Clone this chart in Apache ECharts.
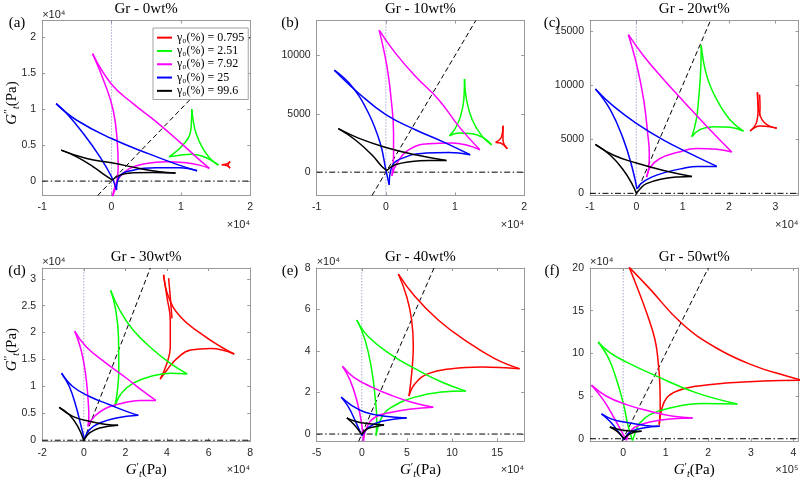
<!DOCTYPE html>
<html><head><meta charset="utf-8">
<script src="https://cdn.jsdelivr.net/npm/echarts@6/dist/echarts.min.js"></script>
<style>html,body{margin:0;padding:0;background:#fff}#c{width:800px;height:480px}</style>
</head><body><div id="c"></div>
<script>
// ---------- labels ----------
const TITLES = ['Gr - 0wt%', 'Gr - 10wt%', 'Gr - 20wt%', 'Gr - 30wt%', 'Gr - 40wt%', 'Gr - 50wt%'];
const LETTERS = ['(a)', '(b)', '(c)', '(d)', '(e)', '(f)'];
const GAMMA_LABELS = ['0.795', '2.51', '7.92', '25', '99.6'];
const CURVE_COLORS = ['#ff0000', '#00ff00', '#ff00ff', '#0000ff', '#000000'];

// ---------- tick values (displayed units) ----------
const TICKS_X_A = [-1, 0, 1, 2];          const TICKS_Y_A = [0, 0.5, 1, 1.5, 2];
const TICKS_X_B = [-1, 0, 1, 2];          const TICKS_Y_B = [0, 5000, 10000];
const TICKS_X_C = [-1, 0, 1, 2, 3];       const TICKS_Y_C = [0, 5000, 10000, 15000];
const TICKS_X_D = [-2, 0, 2, 4, 6, 8];    const TICKS_Y_D = [0, 0.5, 1, 1.5, 2, 2.5, 3];
const TICKS_X_E = [-5, 0, 5, 10, 15];     const TICKS_Y_E = [0, 2, 4, 6, 8];
const TICKS_X_F = [0, 1, 2, 3, 4];        const TICKS_Y_F = [0, 5, 10, 15, 20];

// ---------- curves: each curve = list of edges (cusp to cusp), points [G't, G''t] in displayed units ----------
// (a) Gr - 0wt%  (x: 1e4 Pa, y: 1e4 Pa)
const A_red = [
  [[1.59,0.226],[1.67,0.24],[1.71,0.273]],
  [[1.71,0.273],[1.68,0.226],[1.71,0.18]],
  [[1.71,0.18],[1.67,0.212],[1.59,0.226]]
];
const A_green = [
  [[1.158,0.998],[1.153,0.845],[1.134,0.661],[1.005,0.476],[0.885,0.374],[0.828,0.337]],
  [[1.158,0.998],[1.177,0.845],[1.22,0.661],[1.316,0.453],[1.435,0.30],[1.541,0.222]],
  [[0.828,0.337],[0.981,0.36],[1.148,0.374],[1.316,0.346],[1.459,0.277],[1.541,0.222]]
];
const A_magenta = [
  [[-0.273,1.769],[-0.096,1.353],[0.024,0.984],[0.081,0.568],[0.096,0.199],[0.072,-0.032],[0.014,-0.217]],
  [[-0.273,1.769],[0,1.344],[0.311,1.076],[0.646,0.822],[0.981,0.545],[1.22,0.337],[1.411,0.176]],
  [[0.014,-0.217],[0.048,-0.079],[0.12,0.06],[0.263,0.176],[0.502,0.245],[0.789,0.268],[1.077,0.254],[1.268,0.222],[1.411,0.176]]
];
const A_blue = [
  [[-0.799,1.076],[-0.646,0.938],[-0.407,0.661],[-0.167,0.337],[0,0.06],[0.072,-0.125]],
  [[-0.799,1.076],[-0.502,0.845],[0,0.591],[0.55,0.374],[0.933,0.236],[1.234,0.143]],
  [[0.072,-0.125],[0.11,0.06],[0.311,0.152],[0.646,0.185],[0.981,0.185],[1.234,0.143]]
];
const A_black = [
  [[-0.727,0.43],[-0.502,0.337],[-0.263,0.199],[-0.096,0.083],[0.014,0.014]],
  [[-0.727,0.43],[-0.359,0.314],[0,0.254],[0.407,0.176],[0.694,0.129],[0.923,0.111]],
  [[0.014,0.014],[0.12,0.083],[0.311,0.115],[0.598,0.12],[0.923,0.111]]
];

// (b) Gr - 10wt%  (x: 1e4 Pa, y: Pa)
const B_red = [
  [[1.693,3982],[1.674,3066],[1.587,2550]],
  [[1.693,3982],[1.693,2779],[1.756,2006]],
  [[1.587,2550],[1.659,2493],[1.756,2006]]
];
const B_green = [
  [[1.137,7993],[1.127,6217],[1.079,4785],[1.006,3782],[0.919,3123]],
  [[1.137,7993],[1.166,6217],[1.248,4498],[1.393,3066],[1.529,2349]],
  [[0.919,3123],[1.055,3352],[1.248,3295],[1.418,2922],[1.529,2349]]
];
const B_magenta = [
  [[-0.097,12176],[0.015,9082],[0.077,6217],[0.111,3352],[0.111,1347],[0.087,-315]],
  [[-0.097,12176],[0.135,10228],[0.426,8223],[0.764,6217],[1.055,3925],[1.359,1920]],
  [[0.087,-315],[0.16,774],[0.329,1920],[0.619,2435],[0.958,2493],[1.2,2263],[1.359,1920]]
];
const B_blue = [
  [[-0.745,8738],[-0.493,7363],[-0.252,5071],[-0.082,2493],[0,201],[0.048,-1089]],
  [[-0.745,8738],[-0.397,6790],[0,4928],[0.426,3639],[0.813,2636],[1.219,1490]],
  [[0.048,-1089],[0.087,487],[0.281,1289],[0.571,1633],[0.91,1690],[1.219,1490]]
];
const B_black = [
  [[-0.687,3725],[-0.445,2779],[-0.203,1490],[-0.058,487],[0.015,143]],
  [[-0.687,3725],[-0.397,2922],[0,2120],[0.426,1490],[0.876,1003]],
  [[0.015,143],[0.135,630],[0.377,917],[0.619,1003],[0.876,1003]]
];

// (c) Gr - 20wt%  (x: 1e4 Pa, y: Pa)
const C_red = [
  [[2.614,9354],[2.628,7733],[2.6,6641],[2.456,5768]],
  [[2.614,9354],[2.657,7421],[2.779,6485],[3.031,6018]],
  [[2.456,5768],[2.672,6236],[2.887,6174],[3.031,6018]],
  [[2.66,9150],[2.67,8000],[2.66,7200]]
];
const C_green = [
  [[1.4,13719],[1.393,11786],[1.343,8668],[1.293,6797],[1.199,5238]],
  [[1.4,13719],[1.522,10851],[1.738,8668],[2.025,6797],[2.312,5768]],
  [[1.199,5238],[1.379,5924],[1.666,6174],[2.025,6111],[2.312,5768]]
];
const C_magenta = [
  [[-0.172,14686],[0.014,11786],[0.158,8668],[0.245,5550],[0.28,3679],[0.27,2400],[0.22,1500]],
  [[-0.172,14686],[0.158,12721],[0.589,10539],[1.02,8512],[1.594,5862],[2.061,3835]],
  [[0.22,1500],[0.3,2400],[0.5,3200],[0.9,3800],[1.3,4150],[1.738,4085],[2.061,3835]]
];
const C_blue = [
  [[-0.883,9666],[-0.56,7733],[-0.273,4926],[-0.093,2432],[0.014,405]],
  [[-0.883,9666],[-0.488,8044],[0,6485],[0.589,4926],[1.163,3679],[1.738,2494]],
  [[0.014,405],[0.1,900],[0.33,1500],[0.65,1965],[1.0,2300],[1.307,2494],[1.738,2494]]
];
const C_black = [
  [[-0.883,4521],[-0.56,3523],[-0.273,2120],[-0.093,873],[0,0]],
  [[-0.883,4521],[-0.488,3523],[0,2806],[0.589,2120],[1.199,1559]],
  [[0,0],[0.1,500],[0.22,900],[0.58,1350],[0.9,1520],[1.199,1559]]
];

// (d) Gr - 30wt%  (x: 1e4 Pa, y: 1e4 Pa)
const D_red = [
  [[3.835,3.074],[3.997,2.661],[4.158,2.23],[4.158,1.737],[3.997,1.429],[3.673,1.134]],
  [[3.835,3.074],[4.077,2.661],[4.644,2.292],[5.615,1.984],[6.585,1.737],[7.233,1.602]],
  [[3.673,1.134],[3.997,1.306],[4.482,1.522],[5.129,1.676],[6.1,1.706],[7.233,1.602]],
  [[4.077,3.012],[4.16,2.65],[4.239,2.261]]
];
const D_green = [
  [[1.294,2.784],[1.537,2.415],[1.667,1.922],[1.683,1.306],[1.602,0.875],[1.489,0.628]],
  [[1.294,2.784],[1.731,2.415],[2.378,2.045],[3.349,1.676],[4.158,1.429],[4.967,1.232]],
  [[1.489,0.628],[1.812,0.875],[2.378,1.06],[3.188,1.183],[4.158,1.244],[4.967,1.232]]
];
const D_magenta = [
  [[-0.437,2.027],[-0.129,1.676],[0.081,1.244],[0.194,0.813],[0.243,0.444],[0.194,0.259]],
  [[-0.437,2.027],[0.113,1.737],[1.084,1.429],[2.055,1.152],[2.864,0.906],[3.463,0.739]],
  [[0.194,0.259],[0.518,0.444],[1.084,0.598],[1.893,0.69],[2.702,0.739],[3.463,0.739]]
];
const D_blue = [
  [[-1.068,1.244],[-0.696,0.998],[-0.372,0.628],[-0.129,0.259],[0.032,0.025]],
  [[-1.068,1.244],[-0.534,0.998],[0.275,0.813],[1.246,0.659],[2.055,0.536],[2.621,0.462]],
  [[0.032,0.025],[0.275,0.197],[0.76,0.32],[1.569,0.413],[2.621,0.462]]
];
const D_black = [
  [[-1.181,0.61],[-0.696,0.474],[-0.291,0.259],[0,0]],
  [[-1.181,0.61],[-0.534,0.444],[0.275,0.351],[1.084,0.29],[1.65,0.277]],
  [[0,0],[0.275,0.136],[0.76,0.228],[1.65,0.277]]
];

// (e) Gr - 40wt%  (x: 1e4 Pa, y: 1e4 Pa)
const E_red = [
  [[4.051,7.708],[4.972,6.626],[5.525,5.494],[5.709,4.202],[5.525,2.909],[5.23,1.826]],
  [[4.051,7.708],[5.893,6.626],[8.471,5.494],[11.417,4.525],[14.73,3.636],[17.49,3.151]],
  [[5.23,1.826],[5.893,2.424],[7.366,2.909],[9.944,3.151],[13.26,3.232],[17.49,3.151]]
];
const E_green = [
  [[-0.552,5.494],[0.368,4.525],[1.105,3.07],[1.473,1.778],[1.657,0.646],[1.584,-0.081]],
  [[-0.552,5.494],[0.737,4.686],[3.315,3.798],[5.893,3.151],[8.839,2.505],[11.53,2.068]],
  [[1.584,-0.081],[2.21,0.808],[3.315,1.293],[5.893,1.778],[8.839,2.02],[11.53,2.068]]
];
const E_magenta = [
  [[-2.136,3.264],[-1.289,2.586],[-0.552,1.616],[-0.074,0.646],[0.184,-0.323]],
  [[-2.136,3.264],[-0.921,2.747],[1.105,2.262],[3.315,1.858],[5.525,1.535],[7.918,1.293]],
  [[0.184,-0.323],[0.552,0.323],[1.473,0.808],[3.315,1.05],[5.525,1.212],[7.918,1.293]]
];
const E_blue = [
  [[-2.283,1.778],[-1.473,1.293],[-0.737,0.646],[0,-0.081]],
  [[-2.283,1.778],[-1.105,1.374],[0.368,1.05],[2.578,0.856],[4.972,0.776]],
  [[0,-0.081],[0.737,0.323],[2.21,0.614],[4.972,0.776]]
];
const E_black = [
  [[-1.657,0.776],[-0.921,0.485],[-0.368,0.194],[0,-0.032]],
  [[-1.657,0.776],[-0.737,0.614],[0.368,0.517],[2.468,0.436]],
  [[0,-0.032],[0.552,0.242],[1.473,0.356],[2.468,0.436]]
];

// (f) Gr - 50wt%  (x: 1e5 Pa, y: 1e4 Pa)
const F_red = [
  [[0.14,20.1],[0.314,17.92],[0.549,14.78],[0.745,11.65],[0.824,8.9],[0.863,6.16],[0.87,3.5],[0.847,1.65]],
  [[0.14,20.1],[0.6,17.7],[1.373,13.53],[2.2,10.6],[3.1,8.5],[3.8,7.4],[4.2,6.85]],
  [[0.847,1.65],[0.902,3.41],[1.02,4.78],[1.255,5.57],[1.725,6.16],[2.51,6.55],[3.294,6.75],[4.2,6.85]]
];
const F_green = [
  [[-0.588,11.33],[-0.35,9.5],[-0.157,6.94],[0,4.2],[0.118,1.45],[0.22,-0.196]],
  [[-0.588,11.33],[-0.314,10.08],[0.078,8.98],[0.784,7.33],[1.725,5.37],[2.682,4.079]],
  [[0.22,-0.196],[0.3,0.9],[0.392,1.84],[0.627,2.82],[1.098,3.61],[1.882,4.12],[2.682,4.079]]
];
const F_magenta = [
  [[-0.745,6.275],[-0.471,4.589],[-0.235,2.628],[-0.039,0.863],[0.078,-0.196]],
  [[-0.745,6.275],[-0.392,4.98],[0.078,4.0],[0.627,3.216],[1.176,2.628],[1.631,2.432]],
  [[0.078,-0.196],[0.157,0.863],[0.392,1.647],[0.941,2.235],[1.631,2.432]]
];
const F_blue = [
  [[-0.51,2.902],[-0.314,2.039],[-0.118,0.863],[0.024,-0.118]],
  [[-0.51,2.902],[-0.235,2.235],[0.157,1.843],[0.549,1.529],[0.863,1.451]],
  [[0.024,-0.118],[0.157,0.745],[0.471,1.255],[0.863,1.451]]
];
const F_black = [
  [[-0.314,1.373],[-0.141,0.863],[0.024,-0.039]],
  [[-0.314,1.373],[-0.078,1.059],[0.157,0.902],[0.431,0.863]],
  [[0.024,-0.039],[0.157,0.588],[0.431,0.863]]
];

// ---------- panel configuration ----------
const COL_LEFT = [42.2, 316.7, 590], COL_W = [208, 207.5, 208.5];
const ROW_TOP = [20.5, 268], ROW_H = [175, 173.3];
const PANELS = [
  {curves:[A_red,A_green,A_magenta,A_blue,A_black], xr:[-1,2], yr:[-0.2,2.23], xt:TICKS_X_A, yt:TICKS_Y_A, xs:1e4, ys:1e4, xe:'×10⁴', ye:'×10⁴'},
  {curves:[B_red,B_green,B_magenta,B_blue,B_black], xr:[-1,2], yr:[-2000,13000], xt:TICKS_X_B, yt:TICKS_Y_B, xs:1e4, ys:1, xe:'×10⁴', ye:null},
  {curves:[C_red,C_green,C_magenta,C_blue,C_black], xr:[-1,3.5], yr:[-200,16000], xt:TICKS_X_C, yt:TICKS_Y_C, xs:1e4, ys:1, xe:'×10⁴', ye:null},
  {curves:[D_red,D_green,D_magenta,D_blue,D_black], xr:[-2,8], yr:[-0.02,3.2], xt:TICKS_X_D, yt:TICKS_Y_D, xs:1e4, ys:1e4, xe:'×10⁴', ye:'×10⁴'},
  {curves:[E_red,E_green,E_magenta,E_blue,E_black], xr:[-5,18], yr:[-0.35,8], xt:TICKS_X_E, yt:TICKS_Y_E, xs:1e4, ys:1e4, xe:'×10⁴', ye:'×10⁴'},
  {curves:[F_red,F_green,F_magenta,F_blue,F_black], xr:[-0.78,4.12], yr:[-0.3,20], xt:TICKS_X_F, yt:TICKS_Y_F, xs:1e5, ys:1e4, xe:'×10⁵', ye:'×10⁴'}
];

const NAMES = GAMMA_LABELS.map(g => 'γ₀(%) = ' + g);
const AX = '#9a9a9a', TXT = '#262626';
const SANS = 'Liberation Sans, Arial, sans-serif';
const SERIF = 'Liberation Serif, Times New Roman, serif';
const fmt = v => String(+(+v).toFixed(6));

const grids = [], xAxes = [], yAxes = [], series = [], graphics = [];

PANELS.forEach((p, i) => {
  const r = Math.floor(i / 3), c = i % 3;
  const L = COL_LEFT[c], W = COL_W[c], T = ROW_TOP[r], H = ROW_H[r];
  grids.push({left: L, top: T, width: W, height: H, containLabel: false});
  const tick = vals => ({show: true, inside: true, length: 3, customValues: vals, lineStyle: {color: AX, width: 1}});
  const line = {show: true, onZero: false, lineStyle: {color: AX, width: 1}};
  xAxes.push({type: 'value', gridIndex: i, position: 'bottom', min: p.xr[0], max: p.xr[1],
    axisLine: line, axisTick: tick(p.xt), splitLine: {show: false},
    axisLabel: {customValues: p.xt, formatter: fmt, color: TXT, fontSize: 10.5, fontFamily: SANS, margin: 6}});
  xAxes.push({type: 'value', gridIndex: i, position: 'top', min: p.xr[0], max: p.xr[1],
    axisLine: line, axisTick: tick(p.xt), splitLine: {show: false}, axisLabel: {show: false}});
  yAxes.push({type: 'value', gridIndex: i, position: 'left', min: p.yr[0], max: p.yr[1],
    axisLine: line, axisTick: tick(p.yt), splitLine: {show: false},
    axisLabel: {customValues: p.yt, formatter: fmt, color: TXT, fontSize: 10.5, fontFamily: SANS, margin: 6}});
  yAxes.push({type: 'value', gridIndex: i, position: 'right', min: p.yr[0], max: p.yr[1],
    axisLine: line, axisTick: tick(p.yt), splitLine: {show: false}, axisLabel: {show: false}});

  const ax = {xAxisIndex: 2 * i, yAxisIndex: 2 * i};
  const ref = (data, style) => Object.assign({type: 'line', data, symbol: 'none', silent: true, animation: false,
    lineStyle: style, z: 1}, ax);
  // reference lines: x = 0 (dotted), y = 0 (dash-dot), G'' = G' (dashed)
  series.push(ref([[0, p.yr[0]], [0, p.yr[1]]], {color: '#7f7fc0', width: 1, type: [1, 2]}));
  series.push(ref([[p.xr[0], 0], [p.xr[1], 0]], {color: '#000', width: 1, type: [6, 2.5, 1.5, 2.5]}));
  const k = p.xs / p.ys;
  const lo = Math.max(p.yr[0], p.xr[0] * k), hi = Math.min(p.yr[1], p.xr[1] * k);
  series.push(ref([[lo / k, lo], [hi / k, hi]], {color: '#000', width: 1, type: [5, 3]}));

  p.curves.forEach((curve, ci) => {
    curve.forEach(edge => {
      series.push(Object.assign({type: 'line', name: NAMES[ci], data: edge, smooth: 0.45, symbol: 'none',
        showSymbol: false, silent: true, animation: false, color: CURVE_COLORS[ci],
        lineStyle: {color: CURVE_COLORS[ci], width: 1.5}, z: 3}, ax));
    });
  });

  // text decorations
  graphics.push({type: 'text', x: L + W / 2, y: T - 11, style: {text: TITLES[i], font: '15px ' + SERIF, fill: '#000', textAlign: 'center', textVerticalAlign: 'middle'}});
  const lx = [17, 290, 552][c];
  graphics.push({type: 'text', x: lx, y: T + 3, style: {text: LETTERS[i], font: '15px ' + SERIF, fill: '#000', textAlign: 'center', textVerticalAlign: 'middle'}});
  graphics.push({type: 'text', x: L + W, y: T + H + 29, style: {text: p.xe, font: '11px ' + SANS, fill: TXT, textAlign: 'right', textVerticalAlign: 'middle'}});
  if (p.ye) graphics.push({type: 'text', x: L, y: T - 6, style: {text: p.ye, font: '11px ' + SANS, fill: TXT, textAlign: 'left', textVerticalAlign: 'middle'}});
  const gRich = {
    g: {fontFamily: SERIF, fontStyle: 'italic', fontSize: 15, lineHeight: 18, color: TXT},
    p: {fontFamily: SERIF, fontSize: 11, lineHeight: 10, verticalAlign: 'top', color: TXT},
    t: {fontFamily: SERIF, fontStyle: 'italic', fontSize: 10, lineHeight: 8, verticalAlign: 'bottom', color: TXT},
    n: {fontFamily: SERIF, fontSize: 15, lineHeight: 18, color: TXT}
  };
  if (r === 1) graphics.push({type: 'text', x: L + W / 2, y: T + H + 29, style: {text: '{g|G}{p|′}{t|t}{n|(Pa)}', rich: gRich, textAlign: 'center', textVerticalAlign: 'middle'}});
  if (c === 0) graphics.push({type: 'text', x: 12, y: T + H / 2 - 5, rotation: Math.PI / 2, style: {text: '{g|G}{p|′′}{t|t}{n|(Pa)}', rich: gRich, textAlign: 'center', textVerticalAlign: 'middle'}});
});

const chart = echarts.init(document.getElementById('c'), null, {renderer: 'canvas'});
chart.setOption({
  backgroundColor: '#fff',
  animation: false,
  grid: grids, xAxis: xAxes, yAxis: yAxes, series,
  graphic: {elements: graphics},
  legend: {
    data: NAMES, orient: 'vertical', left: 153, top: 28, icon: 'rect', itemWidth: 15, itemHeight: 2,
    itemGap: 0, padding: [3, 4, 2, 4], borderColor: '#a0a0a0', borderWidth: 1, backgroundColor: '#fff',
    selectedMode: false, textStyle: {fontFamily: SERIF, fontSize: 12, lineHeight: 13.3, color: '#000'}, z: 10
  }
});
</script></body></html>
